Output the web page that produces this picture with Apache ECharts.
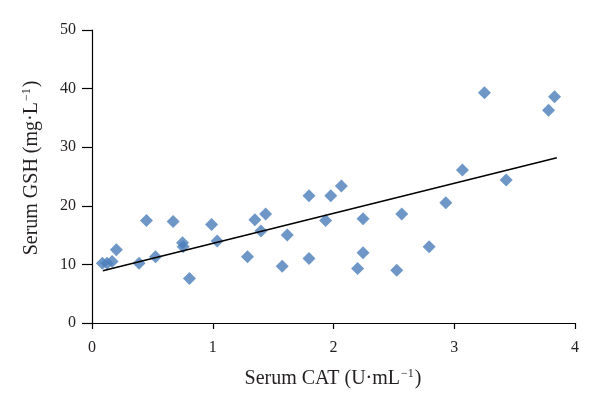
<!DOCTYPE html>
<html><head><meta charset="utf-8">
<script src="https://cdn.jsdelivr.net/npm/echarts@6/dist/echarts.min.js"></script>
<style>html,body{margin:0;padding:0;background:#fff}#c{width:600px;height:419px}</style>
</head><body><div id="c"></div>
<script>
const catX = [0.086,0.124,0.166,0.202,0.39,0.451,0.526,0.672,0.75,0.755,0.807,0.99,1.037,1.288,1.349,1.399,1.438,1.575,1.617,1.797,1.797,1.935,1.977,2.065,2.2,2.245,2.245,2.524,2.565,2.792,2.93,3.068,3.25,3.43,3.781,3.831];
const gshY = [10.2,10.2,10.5,12.5,10.2,17.5,11.3,17.3,13.7,13.0,7.6,16.8,14.0,11.3,17.6,15.7,18.6,9.7,15.0,21.7,11.0,17.5,21.7,23.4,9.3,17.8,12.0,9.0,18.6,13.0,20.5,26.1,39.3,24.4,36.3,38.6];
const trendX = [0.09, 3.85];
const trendY = [8.9, 28.2];
const xTicks = [0,1,2,3,4];
const yTicks = [0,10,20,30,40,50];

const chart = echarts.init(document.getElementById('c'));
const font = '"Liberation Serif", "DejaVu Serif", serif';
const txt = '#231f20';
const rich = {n:{fontSize:20,fontFamily:font,fill:txt,color:txt},
              s:{fontSize:12,fontFamily:font,fill:txt,color:txt,padding:[0,1,11,1]}};
chart.setOption({
  animation:false,
  textStyle:{fontFamily:font},
  grid:{left:92,right:25,top:30,bottom:96},
  xAxis:{type:'value',min:0,max:4,interval:1,
    axisLine:{lineStyle:{color:'#000',width:1.2}},
    axisTick:{show:true,length:6,lineStyle:{color:'#000',width:1.2}},
    splitLine:{show:false},
    axisLabel:{margin:17,fontSize:16,color:txt,fontFamily:font,
      formatter:v=>xTicks.includes(v)?String(v):''}
  },
  yAxis:{type:'value',min:0,max:50,interval:10,
    axisLine:{show:true,lineStyle:{color:'#000',width:1.2}},
    axisTick:{show:true,length:10,lineStyle:{color:'#000',width:1.2}},
    splitLine:{show:false},
    axisLabel:{margin:16,fontSize:16,color:txt,fontFamily:font,
      formatter:v=>yTicks.includes(v)?String(v):''}
  },
  graphic:[
    {type:'text',x:333,y:379,silent:true,
     style:{text:'{n|Serum CAT (U·mL}{s|−1}{n|)}',align:'center',verticalAlign:'middle',rich:rich}},
    {type:'text',x:32,y:168,rotation:Math.PI/2,silent:true,
     style:{text:'{n|Serum GSH (mg·L}{s|−1}{n|)}',align:'center',verticalAlign:'middle',rich:rich}}
  ],
  series:[
    {type:'scatter',symbol:'diamond',symbolSize:13,
     itemStyle:{color:'#4a7dba'},
     data:catX.map((x,i)=>[x,gshY[i]])},
    {type:'line',symbol:'none',lineStyle:{color:'#000',width:1.5},
     data:trendX.map((x,i)=>[x,trendY[i]])}
  ]
});
</script></body></html>
